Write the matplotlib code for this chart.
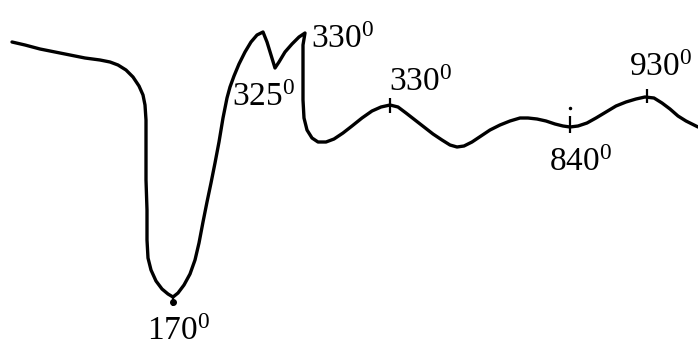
import matplotlib
matplotlib.use("Agg")
import matplotlib.pyplot as plt

plt.rcParams['font.family'] = ['Liberation Serif', 'DejaVu Serif']
plt.rcParams['mathtext.fontset'] = 'custom'
plt.rcParams['mathtext.rm'] = 'Liberation Serif'
plt.rcParams['mathtext.it'] = 'Liberation Serif'

# Thermogram trace (horizontal position, deflection; deflection grows downward)
curve_x = [12, 25, 40, 55, 70, 85, 100, 110, 118, 126, 133, 139, 143, 145, 146, 146, 146,
           147, 147, 148, 151, 156, 162, 168, 173, 178, 184, 190, 195, 199, 203, 207, 211,
           215, 219, 223, 227, 230, 234, 239, 245, 251, 257, 263, 267, 271, 275, 279, 285,
           292, 299, 305, 303, 303, 303, 304, 307, 312, 318, 326, 334, 343, 352, 362, 372,
           381, 390, 398, 406, 415, 424, 433, 442, 450, 457, 464, 472, 481, 490, 500, 510,
           520, 528, 537, 546, 555, 563, 570, 578, 587, 596, 606, 616, 626, 636, 645, 654,
           662, 670, 678, 686, 698]
curve_y = [42, 45, 49, 52, 55, 58, 60, 62, 65, 70, 77, 86, 95, 105, 120, 150, 180,
           210, 240, 258, 270, 281, 289, 294, 297, 293, 285, 274, 260, 243, 222, 202, 183,
           163, 142, 118, 98, 87, 76, 64, 52, 42, 35, 32, 42, 55, 68, 62, 52,
           44, 37, 33, 45, 70, 100, 118, 130, 138, 142, 142, 139, 133, 126, 118, 111,
           107, 105, 107, 113, 120, 127, 134, 140, 145, 147, 146, 142, 136, 130, 125, 121,
           118, 118, 119, 121, 124, 126, 127, 126, 123, 118, 112, 106, 102, 99, 97, 98,
           103, 109, 116, 121, 127]

# Marked peak temperatures: tick position and tick extent
tick_x = [173, 390, 570, 647]
tick_top = [296, 98, 116, 89]
tick_bottom = [306, 113, 133, 103]

# Temperature annotations
labels = ["330", "325", "330", "840", "930", "170"]
label_x = [311, 232, 389, 549, 629, 147]
label_y = [48, 106, 91, 171, 76, 340]

fig = plt.figure(figsize=(6.98, 3.47), dpi=100)
ax = fig.add_axes([0, 0, 1, 1])
ax.set_xlim(0, 698)
ax.set_ylim(347, 0)
ax.axis('off')

ax.plot(curve_x, curve_y, color='black', lw=2.4, solid_joinstyle='round',
        solid_capstyle='round')
ax.vlines(tick_x, tick_top, tick_bottom, color='black', lw=1.6)
ax.plot([tick_x[2]], [108], 'o', color='black', ms=1.5)
ax.plot([tick_x[0]], [302], 'o', color='black', ms=4)

for t, x, y in zip(labels, label_x, label_y):
    ax.text(x, y, t + r"$^{0}$", fontsize=24, color='black', ha='left', va='baseline')

fig.savefig("out.png", dpi=100)
